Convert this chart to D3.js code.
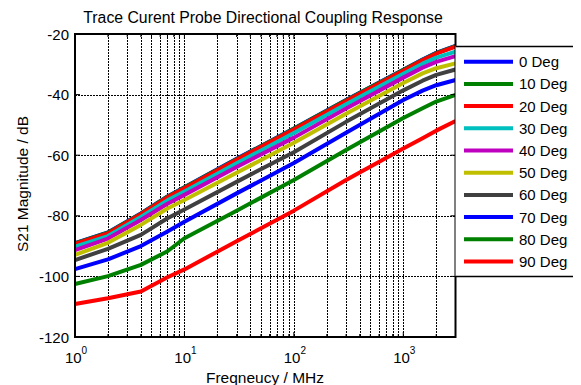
<!DOCTYPE html>
<html>
<head>
<meta charset="utf-8">
<script src="https://cdn.jsdelivr.net/npm/d3@7"></script>
<style>
  body { margin: 0; background: #fff; }
  text { font-family: "Liberation Sans", Arial, sans-serif; fill: #000; }
</style>
</head>
<body>
<div id="chart"></div>
<script>
// measured frequencies (MHz)
const freqs = [1, 2, 4, 7, 10, 30, 100, 300, 1000, 1500, 2000, 3000];

const labels = ["0 Deg", "10 Deg", "20 Deg", "30 Deg", "40 Deg", "50 Deg", "60 Deg", "70 Deg", "80 Deg", "90 Deg"];
const colors = ["#0000ff", "#008000", "#ff0000", "#00bfbf", "#bf00bf", "#bfbf00", "#404040", "#0000ff", "#008000", "#ff0000"];

const deg0  = [-89.0, -85.5, -79.2, -73.6, -70.6, -61.2, -51.2, -41.8, -31.8, -28.4, -26.2, -23.9];
const deg10 = [-89.1, -85.6, -79.3, -73.7, -70.7, -61.3, -51.3, -41.9, -31.9, -28.5, -26.3, -24.0];
const deg20 = [-89.3, -85.8, -79.5, -73.9, -70.9, -61.5, -51.5, -42.1, -32.1, -28.7, -26.5, -24.2];
const deg30 = [-90.2, -86.7, -80.4, -74.9, -72.0, -62.7, -52.7, -43.2, -33.1, -29.8, -27.8, -25.8];
const deg40 = [-91.3, -87.5, -81.4, -76.0, -73.1, -63.9, -54.2, -44.6, -34.4, -31.1, -29.2, -27.3];
const deg50 = [-92.9, -88.9, -83.0, -77.6, -74.8, -65.8, -55.9, -46.3, -36.2, -33.0, -31.3, -29.7];
const deg60 = [-94.6, -90.9, -86.3, -80.8, -77.9, -68.8, -59.0, -49.0, -38.6, -35.4, -33.5, -31.7];
const deg70 = [-97.6, -94.4, -90.0, -85.2, -82.0, -72.6, -62.6, -52.6, -41.8, -38.7, -36.9, -35.2];
const deg80 = [-102.5, -99.9, -96.2, -91.7, -87.4, -78.3, -68.2, -58.3, -47.7, -44.5, -42.3, -40.1];
const deg90 = [-109.1, -107.2, -105.0, -100.3, -97.7, -88.4, -78.3, -68.2, -57.8, -54.4, -51.9, -48.7];

const series = [deg0, deg10, deg20, deg30, deg40, deg50, deg60, deg70, deg80, deg90];

const yTicks = [-120, -100, -80, -60, -40, -20];
const xDecades = [0, 1, 2, 3];

let width = 581,
  height = 385;

let svg = d3.select("#chart")
  .append("svg")
  .attr("width", width)
  .attr("height", height);

let x = d3.scaleLog()
  .domain([1, 3000])
  .range([75, 455.5]);

let y = d3.scaleLinear()
  .domain([-120, -20])
  .range([337, 34]);

let x0 = x.range()[0], x1 = x.range()[1];
let y0 = y.range()[0], y1 = y.range()[1];

// minor + major x positions
let xGrid = [];
for (let k = 0; k <= 3; k++) {
  for (let m = 1; m <= 9; m++) {
    let f = m * Math.pow(10, k);
    if (f > 1 && f < 3000) xGrid.push(f);
  }
}

let grid = svg.append("g").attr("class", "grid");

grid.selectAll("line.vx")
  .data(xGrid)
  .join("line")
  .attr("class", "vx")
  .attr("x1", d => Math.round(x(d)) + 0.5)
  .attr("x2", d => Math.round(x(d)) + 0.5)
  .attr("y1", y1)
  .attr("y2", y0)
  .attr("stroke", "#000")
  .attr("stroke-width", 1)
  .attr("stroke-dasharray", "2,1");

grid.selectAll("line.hy")
  .data(yTicks.slice(1, -1))
  .join("line")
  .attr("class", "hy")
  .attr("x1", x0)
  .attr("x2", x1)
  .attr("y1", d => Math.round(y(d)) + 0.5)
  .attr("y2", d => Math.round(y(d)) + 0.5)
  .attr("stroke", "#000")
  .attr("stroke-width", 1)
  .attr("stroke-dasharray", "2,1");

// curves
let line = d3.line()
  .x((d, i) => x(freqs[i]))
  .y(d => y(d));

svg.append("g")
  .selectAll("path")
  .data(series)
  .join("path")
  .attr("d", d => line(d))
  .attr("fill", "none")
  .attr("stroke", (d, i) => colors[i])
  .attr("stroke-width", 4)
  .attr("stroke-linejoin", "round");

// axes box
svg.append("rect")
  .attr("x", x0)
  .attr("y", y1)
  .attr("width", x1 - x0)
  .attr("height", y0 - y1)
  .attr("fill", "none")
  .attr("stroke", "#000")
  .attr("stroke-width", 2);

// inner ticks
let ticks = svg.append("g");
ticks.selectAll("line.yt")
  .data(yTicks.flatMap(v => [[x0, v, 1], [x1, v, -1]]))
  .join("line")
  .attr("x1", d => d[0])
  .attr("x2", d => d[0] + d[2] * 5)
  .attr("y1", d => y(d[1]))
  .attr("y2", d => y(d[1]))
  .attr("stroke", "#000");

ticks.selectAll("line.xt")
  .data(xGrid.flatMap(f => [[f, y0, -1], [f, y1, 1]]))
  .join("line")
  .attr("x1", d => x(d[0]))
  .attr("x2", d => x(d[0]))
  .attr("y1", d => d[1])
  .attr("y2", d => d[1] + d[2] * (Number.isInteger(Math.log10(d[0])) ? 5 : 3))
  .attr("stroke", "#000");

// y tick labels
svg.append("g")
  .selectAll("text")
  .data(yTicks)
  .join("text")
  .attr("x", 69)
  .attr("y", d => y(d) + 5.5)
  .attr("text-anchor", "end")
  .attr("font-size", 15)
  .text(d => d);

// x tick labels 10^k
let xl = svg.append("g")
  .selectAll("text")
  .data(xDecades)
  .join("text")
  .attr("x", d => x(Math.pow(10, d)) + 1)
  .attr("y", 363)
  .attr("text-anchor", "middle")
  .attr("font-size", 15);
xl.append("tspan").text("10");
xl.append("tspan")
  .attr("dy", -9)
  .attr("font-size", 10)
  .text(d => d);

// title and axis labels
svg.append("text")
  .attr("x", 263)
  .attr("y", 23)
  .attr("text-anchor", "middle")
  .attr("font-size", 15.8)
  .text("Trace Curent Probe Directional Coupling Response");

svg.append("text")
  .attr("x", 265)
  .attr("y", 383)
  .attr("text-anchor", "middle")
  .attr("font-size", 15.5)
  .text("Freqneucy / MHz");

svg.append("text")
  .attr("transform", "translate(28,184) rotate(-90)")
  .attr("text-anchor", "middle")
  .attr("font-size", 15.5)
  .text("S21 Magnitude / dB");

// legend
let lg = svg.append("g");
lg.append("rect")
  .attr("x", x1)
  .attr("y", 46)
  .attr("width", 573 - x1)
  .attr("height", 276 - 46)
  .attr("fill", "#fff");
lg.selectAll("line.edge")
  .data([46, 276])
  .join("line")
  .attr("x1", x1)
  .attr("x2", 573)
  .attr("y1", d => d + 0.5)
  .attr("y2", d => d + 0.5)
  .attr("stroke", "#000")
  .attr("stroke-width", 1.5);

let items = lg.selectAll("g.item")
  .data(labels)
  .join("g")
  .attr("transform", (d, i) => "translate(0," + (61.7 + i * 22.2) + ")");
items.append("line")
  .attr("x1", 464)
  .attr("x2", 513)
  .attr("stroke", (d, i) => colors[i])
  .attr("stroke-width", 4);
items.append("text")
  .attr("x", 519)
  .attr("y", 5.5)
  .attr("font-size", 15)
  .text(d => d);
</script>
</body>
</html>
